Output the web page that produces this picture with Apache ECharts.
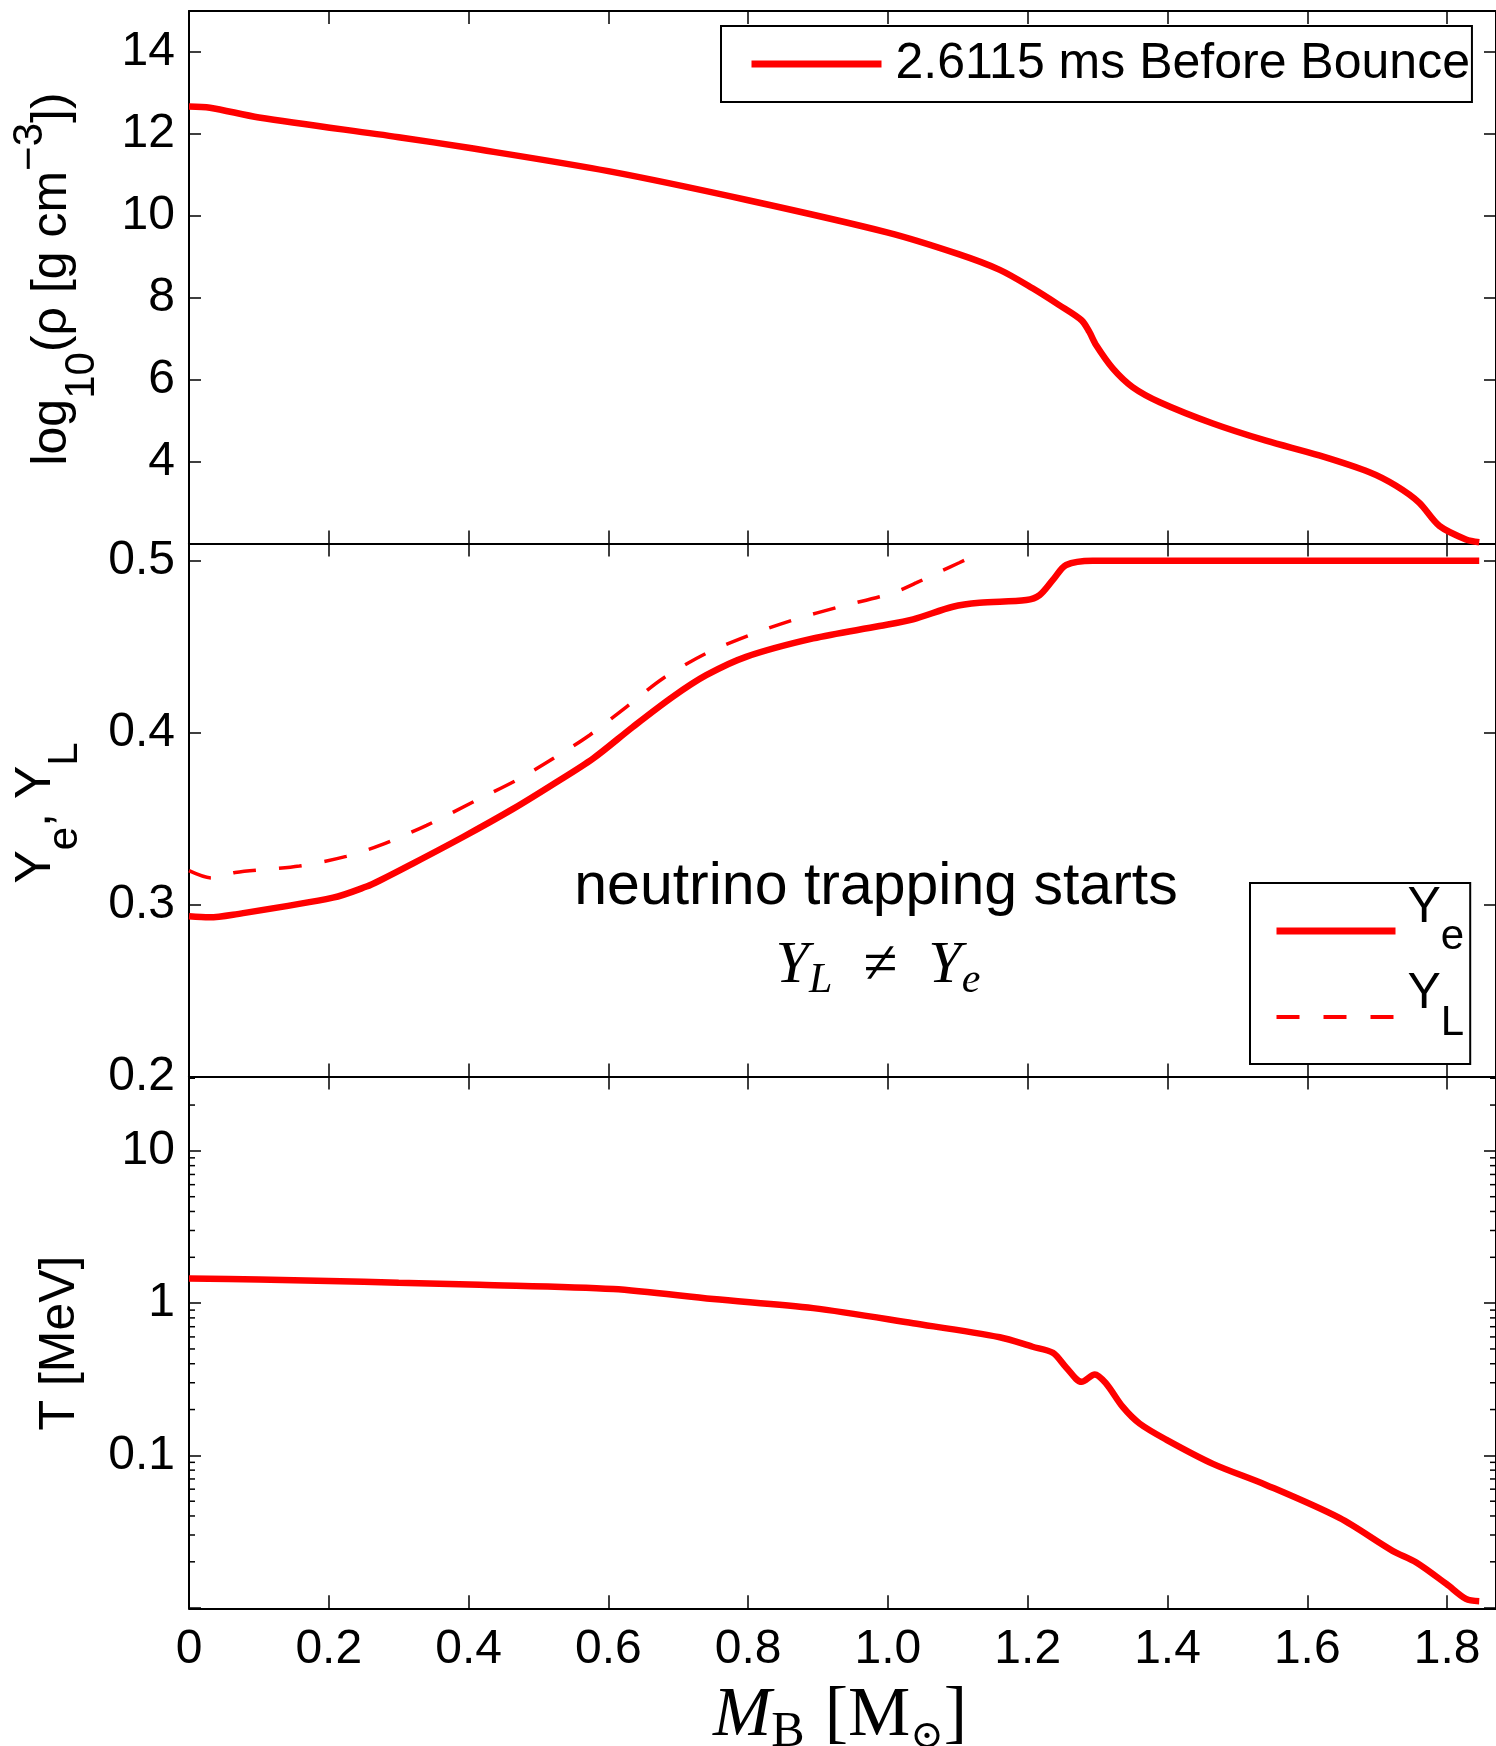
<!DOCTYPE html>
<html><head><meta charset="utf-8">
<script src="https://cdn.jsdelivr.net/npm/echarts@6/dist/echarts.min.js"></script>
<style>html,body{margin:0;padding:0;background:#fff}#c{width:1496px;height:1746px}</style>
</head><body><div id="c"></div>
<script>
// ---------------- data ----------------
const massRho = [0, 0.03, 0.1, 0.3, 0.4, 0.6, 0.8, 1.0, 1.1, 1.16, 1.207, 1.245, 1.277, 1.288, 1.298, 1.322, 1.35, 1.389, 1.465, 1.541, 1.617, 1.689, 1.727, 1.76, 1.789, 1.827, 1.846];
const logRho  = [12.67, 12.64, 12.40, 11.92, 11.66, 11.09, 10.38, 9.59, 9.07, 8.68, 8.23, 7.82, 7.45, 7.17, 6.84, 6.27, 5.82, 5.45, 4.93, 4.51, 4.15, 3.74, 3.41, 3.00, 2.43, 2.10, 2.03];

const massYe = [0, 0.029, 0.063, 0.206, 0.254, 0.273, 0.320, 0.392, 0.463, 0.521, 0.578, 0.635, 0.692, 0.740, 0.797, 0.893, 0.988, 1.036, 1.093, 1.131, 1.198, 1.217, 1.236, 1.255, 1.293, 1.846];
const ye     = [0.2932, 0.2926, 0.2941, 0.304, 0.3105, 0.3140, 0.3238, 0.3393, 0.3555, 0.3700, 0.3849, 0.4033, 0.4208, 0.4334, 0.4441, 0.4548, 0.4620, 0.4659, 0.4732, 0.4755, 0.4771, 0.4800, 0.4888, 0.4975, 0.5, 0.5];

const massYL = [0, 0.032, 0.066, 0.158, 0.225, 0.273, 0.340, 0.416, 0.473, 0.521, 0.573, 0.626, 0.678, 0.740, 0.802, 0.864, 0.931, 0.988, 1.012, 1.041, 1.072, 1.102, 1.131];
const yl     = [0.3197, 0.3155, 0.3187, 0.3224, 0.328, 0.3344, 0.3461, 0.3616, 0.3733, 0.3849, 0.3985, 0.4150, 0.4315, 0.4461, 0.4567, 0.4655, 0.4732, 0.4790, 0.4820, 0.4872, 0.4932, 0.4988, 0.5043];

const massT = [0, 0.1, 0.2, 0.3, 0.416, 0.607, 0.75, 0.893, 1.036, 1.16, 1.207, 1.236, 1.255, 1.277, 1.296, 1.312, 1.336, 1.36, 1.398, 1.465, 1.541, 1.646, 1.722, 1.756, 1.799, 1.827, 1.846];
const tempMeV = [1.45, 1.43, 1.40, 1.36, 1.32, 1.237, 1.063, 0.927, 0.738, 0.597, 0.517, 0.472, 0.378, 0.304, 0.340, 0.297, 0.208, 0.162, 0.127, 0.088, 0.064, 0.0388, 0.0236, 0.0198, 0.0143, 0.0114, 0.0110];

const xTickLabels = ['0', '0.2', '0.4', '0.6', '0.8', '1.0', '1.2', '1.4', '1.6', '1.8'];
const rhoTickLabels = ['4', '6', '8', '10', '12', '14'];
const yeTickLabels = ['0.2', '0.3', '0.4', '0.5'];
const tTickLabels = ['0.1', '1', '10'];
const tMinorTicks = [0.02, 0.03, 0.04, 0.05, 0.06, 0.07, 0.08, 0.09, 0.2, 0.3, 0.4, 0.5, 0.6, 0.7, 0.8, 0.9, 2, 3, 4, 5, 6, 7, 8, 9, 20, 30];

const legendRho = '2.6115 ms Before Bounce';
// ----------------------------------------------------------------

const FONT = '"Liberation Sans", Arial, Helvetica, sans-serif';
const SERIF = '"Liberation Serif", "DejaVu Serif", "Times New Roman", serif';
const RED = '#ff0000';
const X_MAX = 1.87;
const TICK_FS = 48;

const chart = echarts.init(document.getElementById('c'), null, {renderer: 'canvas'});

function xAxis(gridIndex, position, showLabels) {
  return {
    type: 'value', gridIndex, position, min: 0, max: X_MAX, interval: 0.2,
    axisLine: {show: true, onZero: false, lineStyle: {color: '#000', width: 2}},
    axisTick: {show: true, inside: true, length: 13, lineStyle: {color: '#000', width: 1.5}},
    axisLabel: {
      show: showLabels, margin: 17, fontSize: TICK_FS, fontFamily: FONT, color: '#000',
      showMaxLabel: false,
      formatter: v => { const i = Math.round(v / 0.2); return Math.abs(v - i * 0.2) < 1e-6 && i < xTickLabels.length ? xTickLabels[i] : ''; }
    },
    splitLine: {show: false}
  };
}
function yBase(gridIndex, position, showLabels) {
  return {
    gridIndex, position,
    axisLine: {show: true, onZero: false, lineStyle: {color: '#000', width: 2}},
    axisTick: {show: true, inside: true, length: 12, lineStyle: {color: '#000', width: 1.5}},
    axisLabel: {show: showLabels, margin: 14, fontSize: TICK_FS, fontFamily: FONT, color: '#000'},
    splitLine: {show: false}
  };
}
function yRho(pos, show) {
  const a = yBase(0, pos, show);
  Object.assign(a, {type: 'value', min: 2, max: 15, interval: 2});
  a.axisLabel.formatter = v => { const s = String(Math.round(v)); return Math.abs(v - Math.round(v)) < 1e-6 && rhoTickLabels.includes(s) ? s : ''; };
  return a;
}
function yYe(pos, show) {
  const a = yBase(1, pos, show);
  Object.assign(a, {type: 'value', min: 0.2, max: 0.51, interval: 0.1});
  a.axisLabel.formatter = v => { const s = v.toFixed(1); return Math.abs(v - parseFloat(s)) < 1e-6 && yeTickLabels.includes(s) ? s : ''; };
  return a;
}
function yT(pos, show) {
  const a = yBase(2, pos, show);
  Object.assign(a, {type: 'log', logBase: 10, min: 0.0099, max: 30.8});
  a.axisLabel.formatter = v => {
    const l = Math.log10(v), r = Math.round(l);
    if (Math.abs(l - r) > 1e-6) return '';
    const s = r < 0 ? (Math.pow(10, r)).toFixed(-r) : String(Math.pow(10, r));
    return tTickLabels.includes(s) ? s : '';
  };
  return a;
}

const gridCommon = {left: 189, width: 1307, outerBoundsMode: 'none', containLabel: false};

const option = {
  animation: false,
  backgroundColor: '#fff',
  grid: [
    Object.assign({top: 11, height: 532.5}, gridCommon),
    Object.assign({top: 543.5, height: 533}, gridCommon),
    Object.assign({top: 1076.5, height: 531.8}, gridCommon)
  ],
  xAxis: [
    xAxis(0, 'bottom', false), xAxis(0, 'top', false),
    xAxis(1, 'bottom', false), xAxis(1, 'top', false),
    xAxis(2, 'bottom', true), xAxis(2, 'top', false)
  ],
  yAxis: [
    yRho('left', true), yRho('right', false),
    yYe('left', true), yYe('right', false),
    yT('left', true), yT('right', false)
  ],
  legend: [
    {
      data: [{name: legendRho, lineStyle: {width: 7, color: RED}, itemStyle: {opacity: 0, borderWidth: 0}}],
      left: 721, top: 26, orient: 'horizontal',
      itemWidth: 130, itemHeight: 14, selectedMode: false,
      itemStyle: {opacity: 0, borderWidth: 0},
      padding: [10, 2, 10, 27],
      borderColor: '#000', borderWidth: 2, backgroundColor: '#fff',
      textStyle: {fontSize: 50, fontFamily: FONT, color: '#000', lineHeight: 50, padding: [6, 0, 0, 9]}
    },
    {
      data: [
        {name: 'Ye', lineStyle: {width: 7, color: RED, type: 'solid'}, itemStyle: {opacity: 0, borderWidth: 0}},
        {name: 'YL', lineStyle: {width: 4, color: RED, type: [23, 24]}, itemStyle: {opacity: 0, borderWidth: 0}}
      ],
      left: 1250, top: 883, orient: 'vertical',
      itemWidth: 119, itemHeight: 14, itemGap: 11, selectedMode: false,
      itemStyle: {opacity: 0, borderWidth: 0},
      padding: [0, 6, 20, 23],
      borderColor: '#000', borderWidth: 2, backgroundColor: '#fff',
      formatter: n => n === 'Ye' ? '{m|Y}{s|e}' : '{m|Y}{s|L}',
      textStyle: {
        fontFamily: FONT, color: '#000', padding: [0, 0, 21, 7],
        rich: {
          m: {fontSize: 50, fontFamily: FONT, color: '#000', verticalAlign: 'top'},
          s: {fontSize: 42, fontFamily: FONT, color: '#000', lineHeight: 75, verticalAlign: 'bottom'}
        }
      }
    }
  ],
  series: [
    {
      name: legendRho, type: 'line', xAxisIndex: 0, yAxisIndex: 0,
      data: massRho.map((m, i) => [m, logRho[i]]),
      symbol: 'none', smooth: 0.3, lineStyle: {color: RED, width: 6.5}, itemStyle: {color: RED}
    },
    {
      name: 'Ye', type: 'line', xAxisIndex: 2, yAxisIndex: 2,
      data: massYe.map((m, i) => [m, ye[i]]),
      symbol: 'none', smooth: 0.3, lineStyle: {color: RED, width: 6.5}, itemStyle: {color: RED}
    },
    {
      name: 'YL', type: 'line', xAxisIndex: 2, yAxisIndex: 2,
      data: massYL.map((m, i) => [m, yl[i]]),
      symbol: 'none', smooth: 0.3, lineStyle: {color: RED, width: 3.5, type: [23, 23]}, itemStyle: {color: RED}
    },
    {
      name: 'T', type: 'line', xAxisIndex: 4, yAxisIndex: 4,
      data: massT.map((m, i) => [m, tempMeV[i]]),
      symbol: 'none', smooth: 0.3, lineStyle: {color: RED, width: 6.5}, itemStyle: {color: RED}, z: 3
    },
    {
      name: 'minorTicks', type: 'custom', xAxisIndex: 4, yAxisIndex: 4, silent: true, clip: false,
      data: tMinorTicks.map(v => [0, v]),
      renderItem: (params, api) => {
        const v = api.value(1);
        const l = api.coord([0, v]);
        const r = api.coord([X_MAX, v]);
        return {type: 'group', children: [
          {type: 'line', shape: {x1: l[0], y1: l[1], x2: l[0] + 6, y2: l[1]}, style: {stroke: '#000', lineWidth: 1.5}},
          {type: 'line', shape: {x1: r[0], y1: r[1], x2: r[0] - 6, y2: r[1]}, style: {stroke: '#000', lineWidth: 1.5}}
        ]};
      }
    }
  ],
  graphic: [
    { // y title top panel
      type: 'text', x: 56, y: 279, rotation: Math.PI / 2, silent: true,
      style: {
        text: '{m|log}{s|10}{m|(ρ [g cm}{p|−3}{m|])}', align: 'center', verticalAlign: 'middle', fill: '#000',
        rich: {
          m: {fontSize: 50, fontFamily: FONT, fill: '#000', verticalAlign: 'top', padding: [18, 0, 0, 0]},
          s: {fontSize: 42, fontFamily: FONT, fill: '#000', verticalAlign: 'bottom', lineHeight: 94},
          p: {fontSize: 42, fontFamily: FONT, fill: '#000', verticalAlign: 'top'}
        }
      }
    },
    { // y title middle panel
      type: 'text', x: 48.5, y: 813, rotation: Math.PI / 2, silent: true,
      style: {
        text: '{m|Y}{s|e}{m|, Y}{s|L}', align: 'center', verticalAlign: 'middle', fill: '#000',
        rich: {
          m: {fontSize: 50, fontFamily: FONT, fill: '#000', verticalAlign: 'top'},
          s: {fontSize: 42, fontFamily: FONT, fill: '#000', verticalAlign: 'bottom', lineHeight: 75}
        }
      }
    },
    { // y title bottom panel
      type: 'text', x: 60, y: 1343, rotation: Math.PI / 2, silent: true,
      style: {text: 'T [MeV]', align: 'center', verticalAlign: 'middle', fontSize: 50, fontFamily: FONT, fill: '#000'}
    },
    { // x title
      type: 'text', x: 840, y: 1720, silent: true,
      style: {
        text: '{mi|M}{sb|B}{sp|  }{br|[}{mu|M}{so|⊙}{br|]}', align: 'center', verticalAlign: 'middle', fill: '#000',
        rich: {
          mi: {fontSize: 70, fontFamily: SERIF, fontStyle: 'italic', fill: '#000', verticalAlign: 'top'},
          sb: {fontSize: 50, fontFamily: SERIF, fill: '#000', verticalAlign: 'bottom', lineHeight: 76},
          sp: {fontSize: 40, fontFamily: SERIF, fill: '#000', verticalAlign: 'top'},
          br: {fontSize: 70, fontFamily: SERIF, fill: '#000', verticalAlign: 'top'},
          mu: {fontSize: 70, fontFamily: SERIF, fill: '#000', verticalAlign: 'top'},
          so: {fontSize: 40, fontFamily: '"DejaVu Serif", serif', fill: '#000', verticalAlign: 'bottom', lineHeight: 76}
        }
      }
    },
    { // annotation
      type: 'text', x: 876, y: 888, silent: true,
      style: {text: 'neutrino trapping starts', align: 'center', verticalAlign: 'middle', fontSize: 59, fontFamily: FONT, fill: '#000'}
    },
    {
      type: 'text', x: 878, y: 969, silent: true,
      style: {
        text: '{i|Y}{s|L}{r|  ≠  }{i|Y}{s|e}', align: 'center', verticalAlign: 'middle', fill: '#000',
        rich: {
          i: {fontSize: 60, fontFamily: SERIF, fontStyle: 'italic', fill: '#000', verticalAlign: 'top'},
          r: {fontSize: 62, fontFamily: SERIF, fill: '#000', verticalAlign: 'top'},
          s: {fontSize: 42, fontFamily: SERIF, fontStyle: 'italic', fill: '#000', verticalAlign: 'bottom', lineHeight: 66}
        }
      }
    }
  ]
};
chart.setOption(option);
</script>
</body></html>
